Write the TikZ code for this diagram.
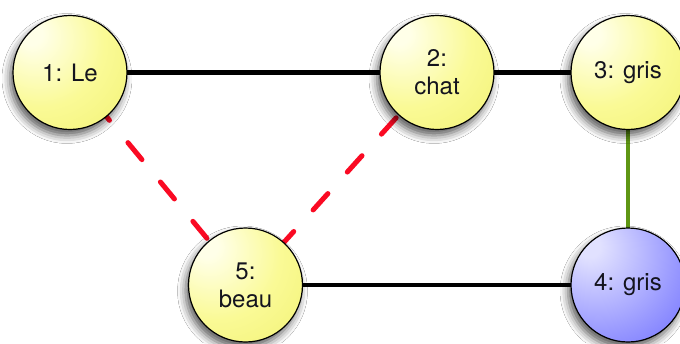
\documentclass[tikz,border=0pt]{standalone}
\usepackage{fontspec}
\setmainfont{TeX Gyre Heros}
\usetikzlibrary{shadows.blur,backgrounds}
\definecolor{ylight}{RGB}{255,255,232}
\definecolor{ymid}{RGB}{250,250,150}
\definecolor{yout}{RGB}{238,238,100}
\definecolor{blight}{RGB}{225,225,255}
\definecolor{bmid}{RGB}{155,155,255}
\definecolor{bout}{RGB}{70,70,255}
\definecolor{edgered}{RGB}{250,10,35}
\definecolor{edgegreen}{RGB}{95,150,20}
\definecolor{textc}{RGB}{20,20,30}
\pgfdeclareradialshading{yball}{\pgfpoint{-18bp}{18bp}}{color(0bp)=(ylight); color(5bp)=(ylight); color(28bp)=(ymid); color(60bp)=(yout); color(100bp)=(yout)}
\pgfdeclareradialshading{bball}{\pgfpoint{-18bp}{18bp}}{color(0bp)=(blight); color(5bp)=(blight); color(32bp)=(bmid); color(66bp)=(bout); color(100bp)=(bout)}
\tikzset{
  wnode/.style={circle, minimum size=114pt, inner sep=0pt, draw=black, line width=1.2pt,
    font=\fontsize{24}{28}\selectfont, align=center, text=textc,
    blur shadow={shadow xshift=-3pt, shadow yshift=-6pt, shadow blur radius=8pt, shadow opacity=65}},
  ynode/.style={wnode, shading=yball},
  bnode/.style={wnode, shading=bball},
  solidedge/.style={line width=4.2pt, black},
  greenedge/.style={line width=4.2pt, edgegreen},
  redash/.style={line width=5pt, edgered, line cap=round, dash pattern=on 22pt off 29pt}
}
\begin{document}
\begin{tikzpicture}[x=1pt,y=-1pt]
\useasboundingbox (0,0) rectangle (680,343);
\node[ynode] (n1) at (70,72.5) {1: Le};
\node[ynode] (n2) at (437,72.5) {2:\\chat};
\node[ynode] (n3) at (628,72.5) {3: gris};
\node[bnode] (n4) at (628,285) {4: gris};
\node[ynode] (n5) at (245.5,285) {5:\\beau};
\begin{pgfonlayer}{background}
\fill[white] (0,0) rectangle (680,343);
\draw[solidedge] (n1.center) -- (n2.center);
\draw[solidedge] (n2.center) -- (n3.center);
\draw[solidedge] (n5.center) -- (n4.center);
\draw[greenedge] (n3.center) -- (n4.center);
\draw[redash, dash phase=11pt] (n1.center) -- (n5.center);
\draw[redash, dash phase=41pt] (n2.center) -- (n5.center);
\end{pgfonlayer}
\end{tikzpicture}
\end{document}
